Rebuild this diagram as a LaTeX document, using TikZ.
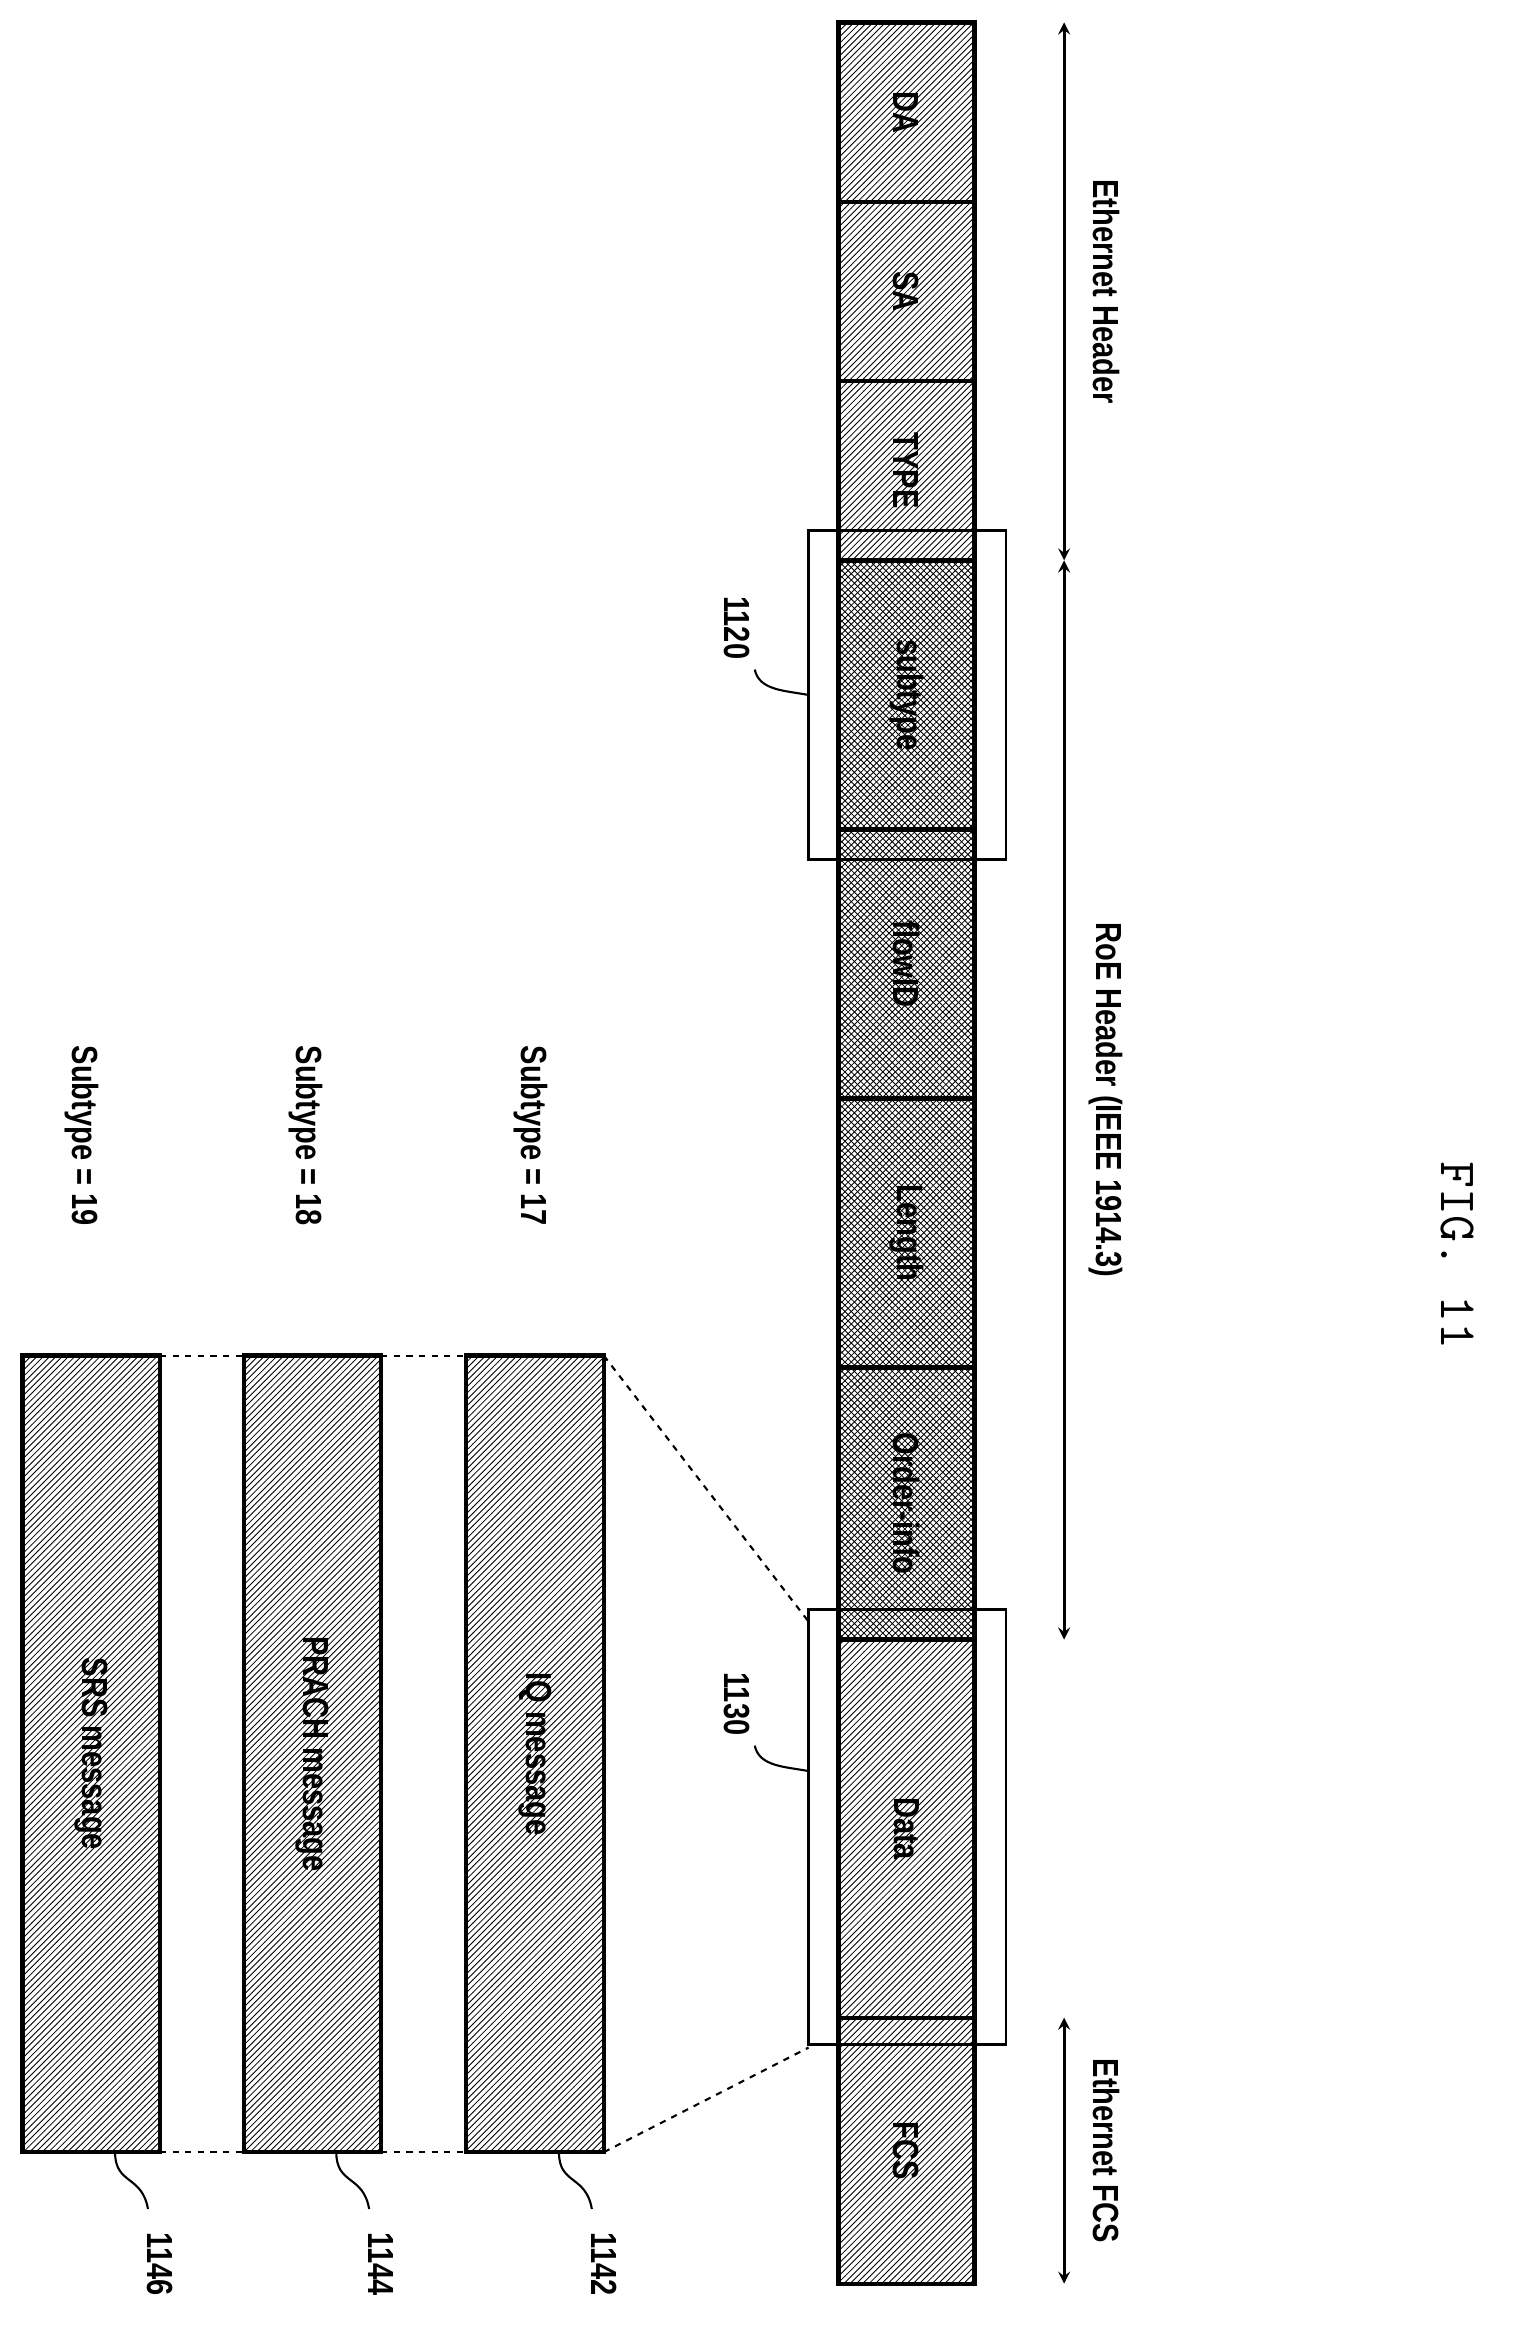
\documentclass[tikz,border=0pt]{standalone}
\usepackage{fontspec}
\setsansfont[FakeStretch=0.8]{Liberation Sans}
\usetikzlibrary{patterns}
\begin{document}
\begin{tikzpicture}[x=0.025cm,y=-0.025cm,
  field/.style={draw, line width=2pt, pattern=north east lines},
  roe/.style={draw, line width=2pt, pattern=crosshatch},
  lbl/.style={rotate=-90, font=\sffamily\bfseries\LARGE},
  dim/.style={<->, >=stealth, line width=1.5pt}]
\useasboundingbox (0,0) rectangle (1024,1561);
% frame fields
\foreach \a/\b/\t in {15/135/DA, 135/255/SA, 255/375/TYPE, 1097/1350/Data, 1350/1528/FCS}
  \draw[field] (561,\a) rectangle node[lbl]{\t} (652,\b);
\foreach \a/\b/\t in {375/555/subtype, 555/735/flowID, 735/915/Length, 915/1097/Order-info}
  \draw[roe] (561,\a) rectangle node[lbl]{\t} (652,\b);
% highlight boxes
\draw[line width=1.2pt] (541,355) rectangle (673,575);
\draw[line width=1.2pt] (541,1077) rectangle (673,1368);
\node[lbl] (n1120) at (493,420) {1120};
\draw[line width=1pt] (505,448) .. controls (508,462) and (525,462) .. (541,465);
\node[lbl] (n1130) at (493,1140) {1130};
\draw[line width=1pt] (505,1168) .. controls (508,1182) and (525,1182) .. (541,1185);
% header extents
\coordinate (e0) at (712,15); \coordinate (e1) at (712,375);
\coordinate (e2) at (712,1097); \coordinate (e3) at (712,1350);
\coordinate (e4) at (712,1528);
\draw[dim] (e0) -- (e1);
\draw[dim] (e1) -- (e2);
\draw[dim] (e3) -- (e4);
\node[lbl] at (740,195) {Ethernet Header};
\node[lbl] at (740,736) {RoE Header (IEEE 1914.3)};
\node[lbl] at (740,1439) {Ethernet FCS};
% messages
\draw[field] (312,907) rectangle node[lbl]{IQ message} (404,1440);
\draw[field] (163,907) rectangle node[lbl]{PRACH message} (255,1440);
\draw[field] (15,907) rectangle node[lbl]{SRS message} (107,1440);
\draw[dashed, line width=1pt] (404,907) -- (541,1085);
\draw[dashed, line width=1pt] (404,1440) -- (541,1370);
\foreach \y in {907,1440} {
  \draw[dashed, line width=1pt] (255,\y) -- (312,\y);
  \draw[dashed, line width=1pt] (107,\y) -- (163,\y);
}
\foreach \x/\s in {355/17, 205/18, 55/19}
  \node[lbl] at (\x,760) {Subtype = \s};
\foreach \x/\n in {404/1142, 255/1144, 107/1146} {
  \node[lbl] at (\x,1515) {\n};
  \draw[line width=1pt] (\x-30,1440) .. controls (\x-30,1462) and (\x-12,1455) .. (\x-8,1478);
}
\node[rotate=-90, font=\Huge\ttfamily] at (975,840) {FIG. 11};
\end{tikzpicture}
\end{document}
